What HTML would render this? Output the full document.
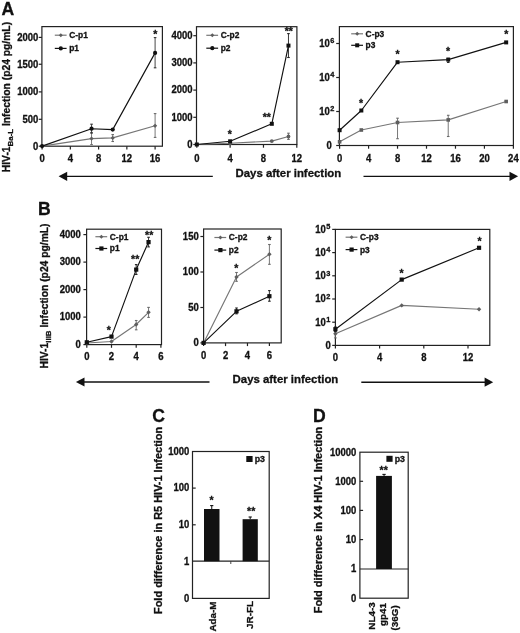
<!DOCTYPE html>
<html><head><meta charset="utf-8"><style>
html,body{margin:0;padding:0;background:#fff;}
svg{display:block;font-family:"Liberation Sans", sans-serif;filter:grayscale(1);}
text{stroke:#111;stroke-width:0.3px;}
</style></head><body>
<svg width="520" height="633" viewBox="0 0 520 633">
<rect width="520" height="633" fill="#fff"/>
<text x="1.6" y="14.7" font-size="17.6" font-weight="bold" fill="#111">A</text>
<rect x="41.90" y="26.60" width="120.50" height="119.60" fill="none" stroke="#222" stroke-width="1.2"/>
<line x1="38.70" y1="146.20" x2="41.90" y2="146.20" stroke="#222" stroke-width="1.2"/>
<text x="0" y="0" font-size="9.8" text-anchor="end" font-weight="bold" fill="#111" transform="translate(38.30,149.55) scale(0.97,1.04)" >0</text>
<line x1="38.70" y1="119.30" x2="41.90" y2="119.30" stroke="#222" stroke-width="1.2"/>
<text x="0" y="0" font-size="9.8" text-anchor="end" font-weight="bold" fill="#111" transform="translate(38.30,122.65) scale(0.97,1.04)" >500</text>
<line x1="38.70" y1="91.90" x2="41.90" y2="91.90" stroke="#222" stroke-width="1.2"/>
<text x="0" y="0" font-size="9.8" text-anchor="end" font-weight="bold" fill="#111" transform="translate(38.30,95.25) scale(0.97,1.04)" >1000</text>
<line x1="38.70" y1="64.25" x2="41.90" y2="64.25" stroke="#222" stroke-width="1.2"/>
<text x="0" y="0" font-size="9.8" text-anchor="end" font-weight="bold" fill="#111" transform="translate(38.30,67.60) scale(0.97,1.04)" >1500</text>
<line x1="38.70" y1="37.40" x2="41.90" y2="37.40" stroke="#222" stroke-width="1.2"/>
<text x="0" y="0" font-size="9.8" text-anchor="end" font-weight="bold" fill="#111" transform="translate(38.30,40.75) scale(0.97,1.04)" >2000</text>
<line x1="42.10" y1="146.20" x2="42.10" y2="149.40" stroke="#222" stroke-width="1.2"/>
<text x="0" y="0" font-size="9.8" text-anchor="middle" font-weight="bold" fill="#111" transform="translate(42.10,161.95) scale(0.97,1.04)" >0</text>
<line x1="70.35" y1="146.20" x2="70.35" y2="149.40" stroke="#222" stroke-width="1.2"/>
<text x="0" y="0" font-size="9.8" text-anchor="middle" font-weight="bold" fill="#111" transform="translate(70.35,161.95) scale(0.97,1.04)" >4</text>
<line x1="98.60" y1="146.20" x2="98.60" y2="149.40" stroke="#222" stroke-width="1.2"/>
<text x="0" y="0" font-size="9.8" text-anchor="middle" font-weight="bold" fill="#111" transform="translate(98.60,161.95) scale(0.97,1.04)" >8</text>
<line x1="126.85" y1="146.20" x2="126.85" y2="149.40" stroke="#222" stroke-width="1.2"/>
<text x="0" y="0" font-size="9.8" text-anchor="middle" font-weight="bold" fill="#111" transform="translate(126.85,161.95) scale(0.97,1.04)" >12</text>
<line x1="155.10" y1="146.20" x2="155.10" y2="149.40" stroke="#222" stroke-width="1.2"/>
<text x="0" y="0" font-size="9.8" text-anchor="middle" font-weight="bold" fill="#111" transform="translate(155.10,161.95) scale(0.97,1.04)" >16</text>
<polyline points="42.10,146.10 91.54,138.60 112.72,137.90 155.10,125.80" fill="none" stroke="#767676" stroke-width="1.15" stroke-linejoin="round"/>
<line x1="91.54" y1="132.50" x2="91.54" y2="144.60" stroke="#6a6a6a" stroke-width="0.9"/>
<line x1="90.24" y1="132.50" x2="92.84" y2="132.50" stroke="#6a6a6a" stroke-width="1.1"/>
<line x1="90.24" y1="144.60" x2="92.84" y2="144.60" stroke="#6a6a6a" stroke-width="1.1"/>
<line x1="112.72" y1="134.60" x2="112.72" y2="141.50" stroke="#6a6a6a" stroke-width="0.9"/>
<line x1="111.42" y1="134.60" x2="114.02" y2="134.60" stroke="#6a6a6a" stroke-width="1.1"/>
<line x1="111.42" y1="141.50" x2="114.02" y2="141.50" stroke="#6a6a6a" stroke-width="1.1"/>
<line x1="155.10" y1="113.60" x2="155.10" y2="137.40" stroke="#6a6a6a" stroke-width="0.9"/>
<line x1="153.80" y1="113.60" x2="156.40" y2="113.60" stroke="#6a6a6a" stroke-width="1.1"/>
<line x1="153.80" y1="137.40" x2="156.40" y2="137.40" stroke="#6a6a6a" stroke-width="1.1"/>
<path d="M42.10 144.00L44.20 146.10L42.10 148.20L40.00 146.10Z" fill="#5e5e5e"/>
<path d="M91.54 136.50L93.64 138.60L91.54 140.70L89.44 138.60Z" fill="#5e5e5e"/>
<path d="M112.72 135.80L114.82 137.90L112.72 140.00L110.62 137.90Z" fill="#5e5e5e"/>
<path d="M155.10 123.70L157.20 125.80L155.10 127.90L153.00 125.80Z" fill="#5e5e5e"/>
<polyline points="42.10,146.10 91.54,128.70 112.72,129.60 155.10,52.90" fill="none" stroke="#111" stroke-width="1.15" stroke-linejoin="round"/>
<line x1="91.54" y1="124.20" x2="91.54" y2="133.10" stroke="#333" stroke-width="0.9"/>
<line x1="90.24" y1="124.20" x2="92.84" y2="124.20" stroke="#333" stroke-width="1.1"/>
<line x1="90.24" y1="133.10" x2="92.84" y2="133.10" stroke="#333" stroke-width="1.1"/>
<line x1="155.10" y1="37.60" x2="155.10" y2="67.80" stroke="#333" stroke-width="0.9"/>
<line x1="153.80" y1="37.60" x2="156.40" y2="37.60" stroke="#333" stroke-width="1.1"/>
<line x1="153.80" y1="67.80" x2="156.40" y2="67.80" stroke="#333" stroke-width="1.1"/>
<circle cx="42.10" cy="146.10" r="2.1" fill="#111"/>
<circle cx="91.54" cy="128.70" r="2.1" fill="#111"/>
<circle cx="112.72" cy="129.60" r="2.1" fill="#111"/>
<circle cx="155.10" cy="52.90" r="2.1" fill="#111"/>
<text x="155.40" y="37.56" font-size="10.5" text-anchor="middle" font-weight="bold" fill="#111" >*</text>
<line x1="54.80" y1="35.20" x2="66.60" y2="35.20" stroke="#767676" stroke-width="1.2"/>
<path d="M60.80 33.20L62.80 35.20L60.80 37.20L58.80 35.20Z" fill="#5e5e5e"/>
<text x="69.20" y="38.10" font-size="8.4" text-anchor="start" font-weight="bold" fill="#111" >C-p1</text>
<line x1="54.80" y1="48.40" x2="66.60" y2="48.40" stroke="#111" stroke-width="1.2"/>
<circle cx="60.80" cy="48.40" r="2.1" fill="#111"/>
<text x="69.20" y="51.30" font-size="8.4" text-anchor="start" font-weight="bold" fill="#111" >p1</text>
<rect x="196.50" y="26.70" width="100.40" height="117.80" fill="none" stroke="#222" stroke-width="1.2"/>
<line x1="193.30" y1="144.50" x2="196.50" y2="144.50" stroke="#222" stroke-width="1.2"/>
<text x="0" y="0" font-size="9.8" text-anchor="end" font-weight="bold" fill="#111" transform="translate(192.60,147.85) scale(0.97,1.04)" >0</text>
<line x1="193.30" y1="117.30" x2="196.50" y2="117.30" stroke="#222" stroke-width="1.2"/>
<text x="0" y="0" font-size="9.8" text-anchor="end" font-weight="bold" fill="#111" transform="translate(192.60,120.65) scale(0.97,1.04)" >1000</text>
<line x1="193.30" y1="90.10" x2="196.50" y2="90.10" stroke="#222" stroke-width="1.2"/>
<text x="0" y="0" font-size="9.8" text-anchor="end" font-weight="bold" fill="#111" transform="translate(192.60,93.45) scale(0.97,1.04)" >2000</text>
<line x1="193.30" y1="62.90" x2="196.50" y2="62.90" stroke="#222" stroke-width="1.2"/>
<text x="0" y="0" font-size="9.8" text-anchor="end" font-weight="bold" fill="#111" transform="translate(192.60,66.25) scale(0.97,1.04)" >3000</text>
<line x1="193.30" y1="35.70" x2="196.50" y2="35.70" stroke="#222" stroke-width="1.2"/>
<text x="0" y="0" font-size="9.8" text-anchor="end" font-weight="bold" fill="#111" transform="translate(192.60,39.05) scale(0.97,1.04)" >4000</text>
<line x1="196.80" y1="144.50" x2="196.80" y2="147.70" stroke="#222" stroke-width="1.2"/>
<text x="0" y="0" font-size="9.8" text-anchor="middle" font-weight="bold" fill="#111" transform="translate(196.80,161.55) scale(0.97,1.04)" >0</text>
<line x1="230.13" y1="144.50" x2="230.13" y2="147.70" stroke="#222" stroke-width="1.2"/>
<text x="0" y="0" font-size="9.8" text-anchor="middle" font-weight="bold" fill="#111" transform="translate(230.13,161.55) scale(0.97,1.04)" >4</text>
<line x1="263.47" y1="144.50" x2="263.47" y2="147.70" stroke="#222" stroke-width="1.2"/>
<text x="0" y="0" font-size="9.8" text-anchor="middle" font-weight="bold" fill="#111" transform="translate(263.47,161.55) scale(0.97,1.04)" >8</text>
<line x1="296.80" y1="144.50" x2="296.80" y2="147.70" stroke="#222" stroke-width="1.2"/>
<text x="0" y="0" font-size="9.8" text-anchor="middle" font-weight="bold" fill="#111" transform="translate(296.80,161.55) scale(0.97,1.04)" >12</text>
<polyline points="196.80,144.50 230.13,143.20 271.80,141.10 288.47,136.50" fill="none" stroke="#767676" stroke-width="1.15" stroke-linejoin="round"/>
<line x1="288.47" y1="133.20" x2="288.47" y2="139.40" stroke="#6a6a6a" stroke-width="0.9"/>
<line x1="287.17" y1="133.20" x2="289.77" y2="133.20" stroke="#6a6a6a" stroke-width="1.1"/>
<line x1="287.17" y1="139.40" x2="289.77" y2="139.40" stroke="#6a6a6a" stroke-width="1.1"/>
<circle cx="196.80" cy="144.50" r="1.9" fill="#5e5e5e"/>
<circle cx="230.13" cy="143.20" r="1.9" fill="#5e5e5e"/>
<circle cx="271.80" cy="141.10" r="1.9" fill="#5e5e5e"/>
<circle cx="288.47" cy="136.50" r="1.9" fill="#5e5e5e"/>
<polyline points="196.80,144.50 230.13,141.30 271.80,123.80 288.47,45.60" fill="none" stroke="#111" stroke-width="1.15" stroke-linejoin="round"/>
<line x1="288.47" y1="33.60" x2="288.47" y2="57.50" stroke="#222" stroke-width="0.9"/>
<line x1="287.17" y1="33.60" x2="289.77" y2="33.60" stroke="#222" stroke-width="1.1"/>
<line x1="287.17" y1="57.50" x2="289.77" y2="57.50" stroke="#222" stroke-width="1.1"/>
<rect x="194.80" y="142.50" width="4.00" height="4.00" fill="#111"/>
<rect x="228.13" y="139.30" width="4.00" height="4.00" fill="#111"/>
<rect x="269.80" y="121.80" width="4.00" height="4.00" fill="#111"/>
<rect x="286.47" y="43.60" width="4.00" height="4.00" fill="#111"/>
<text x="229.90" y="137.85" font-size="10.5" text-anchor="middle" font-weight="bold" fill="#111" >*</text>
<text x="266.80" y="121.26" font-size="10.5" text-anchor="middle" font-weight="bold" fill="#111" >**</text>
<text x="288.80" y="35.36" font-size="10.5" text-anchor="middle" font-weight="bold" fill="#111" >**</text>
<line x1="206.30" y1="35.30" x2="218.10" y2="35.30" stroke="#767676" stroke-width="1.2"/>
<path d="M212.30 33.30L214.30 35.30L212.30 37.30L210.30 35.30Z" fill="#5e5e5e"/>
<text x="220.70" y="38.20" font-size="8.4" text-anchor="start" font-weight="bold" fill="#111" >C-p2</text>
<line x1="206.30" y1="48.20" x2="218.10" y2="48.20" stroke="#111" stroke-width="1.2"/>
<circle cx="212.30" cy="48.20" r="2.1" fill="#111"/>
<text x="220.70" y="51.10" font-size="8.4" text-anchor="start" font-weight="bold" fill="#111" >p2</text>
<rect x="339.40" y="26.60" width="174.00" height="118.90" fill="none" stroke="#222" stroke-width="1.2"/>
<line x1="336.20" y1="145.50" x2="339.40" y2="145.50" stroke="#222" stroke-width="1.2"/>
<text x="0" y="0" font-size="9.8" text-anchor="end" font-weight="bold" fill="#111" transform="translate(331.80,148.85) scale(0.97,1.04)" >0</text>
<line x1="336.20" y1="111.50" x2="339.40" y2="111.50" stroke="#222" stroke-width="1.2"/>
<text x="0" y="0" font-size="9.8" font-weight="bold" text-anchor="end" fill="#111" transform="translate(334.30,114.85) scale(0.97,1.04)">10<tspan font-size="7.6" dx="0.4" dy="-3.5">2</tspan></text>
<line x1="336.20" y1="77.50" x2="339.40" y2="77.50" stroke="#222" stroke-width="1.2"/>
<text x="0" y="0" font-size="9.8" font-weight="bold" text-anchor="end" fill="#111" transform="translate(334.30,80.85) scale(0.97,1.04)">10<tspan font-size="7.6" dx="0.4" dy="-3.5">4</tspan></text>
<line x1="336.20" y1="43.50" x2="339.40" y2="43.50" stroke="#222" stroke-width="1.2"/>
<text x="0" y="0" font-size="9.8" font-weight="bold" text-anchor="end" fill="#111" transform="translate(334.30,46.85) scale(0.97,1.04)">10<tspan font-size="7.6" dx="0.4" dy="-3.5">6</tspan></text>
<line x1="339.60" y1="145.50" x2="339.60" y2="148.70" stroke="#222" stroke-width="1.2"/>
<text x="0" y="0" font-size="9.8" text-anchor="middle" font-weight="bold" fill="#111" transform="translate(339.60,161.85) scale(0.97,1.04)" >0</text>
<line x1="368.57" y1="145.50" x2="368.57" y2="148.70" stroke="#222" stroke-width="1.2"/>
<text x="0" y="0" font-size="9.8" text-anchor="middle" font-weight="bold" fill="#111" transform="translate(368.57,161.85) scale(0.97,1.04)" >4</text>
<line x1="397.53" y1="145.50" x2="397.53" y2="148.70" stroke="#222" stroke-width="1.2"/>
<text x="0" y="0" font-size="9.8" text-anchor="middle" font-weight="bold" fill="#111" transform="translate(397.53,161.85) scale(0.97,1.04)" >8</text>
<line x1="426.50" y1="145.50" x2="426.50" y2="148.70" stroke="#222" stroke-width="1.2"/>
<text x="0" y="0" font-size="9.8" text-anchor="middle" font-weight="bold" fill="#111" transform="translate(426.50,161.85) scale(0.97,1.04)" >12</text>
<line x1="455.47" y1="145.50" x2="455.47" y2="148.70" stroke="#222" stroke-width="1.2"/>
<text x="0" y="0" font-size="9.8" text-anchor="middle" font-weight="bold" fill="#111" transform="translate(455.47,161.85) scale(0.97,1.04)" >16</text>
<line x1="484.43" y1="145.50" x2="484.43" y2="148.70" stroke="#222" stroke-width="1.2"/>
<text x="0" y="0" font-size="9.8" text-anchor="middle" font-weight="bold" fill="#111" transform="translate(484.43,161.85) scale(0.97,1.04)" >20</text>
<line x1="513.40" y1="145.50" x2="513.40" y2="148.70" stroke="#222" stroke-width="1.2"/>
<text x="0" y="0" font-size="9.8" text-anchor="middle" font-weight="bold" fill="#111" transform="translate(513.40,161.85) scale(0.97,1.04)" >24</text>
<polyline points="339.60,141.80 361.33,130.00 397.53,122.50 448.23,119.90 506.16,101.50" fill="none" stroke="#767676" stroke-width="1.15" stroke-linejoin="round"/>
<line x1="397.53" y1="118.20" x2="397.53" y2="138.70" stroke="#6a6a6a" stroke-width="0.9"/>
<line x1="396.23" y1="118.20" x2="398.83" y2="118.20" stroke="#6a6a6a" stroke-width="1.1"/>
<line x1="396.23" y1="138.70" x2="398.83" y2="138.70" stroke="#6a6a6a" stroke-width="1.1"/>
<line x1="448.23" y1="115.30" x2="448.23" y2="136.50" stroke="#6a6a6a" stroke-width="0.9"/>
<line x1="446.93" y1="115.30" x2="449.53" y2="115.30" stroke="#6a6a6a" stroke-width="1.1"/>
<line x1="446.93" y1="136.50" x2="449.53" y2="136.50" stroke="#6a6a6a" stroke-width="1.1"/>
<rect x="337.80" y="140.00" width="3.60" height="3.60" fill="#5e5e5e"/>
<rect x="359.53" y="128.20" width="3.60" height="3.60" fill="#5e5e5e"/>
<rect x="395.73" y="120.70" width="3.60" height="3.60" fill="#5e5e5e"/>
<rect x="446.43" y="118.10" width="3.60" height="3.60" fill="#5e5e5e"/>
<rect x="504.36" y="99.70" width="3.60" height="3.60" fill="#5e5e5e"/>
<polyline points="339.60,130.20 361.33,110.50 397.53,62.20 448.23,59.60 506.16,42.40" fill="none" stroke="#111" stroke-width="1.15" stroke-linejoin="round"/>
<line x1="448.23" y1="58.40" x2="448.23" y2="62.40" stroke="#222" stroke-width="0.9"/>
<line x1="446.93" y1="58.40" x2="449.53" y2="58.40" stroke="#222" stroke-width="1.1"/>
<line x1="446.93" y1="62.40" x2="449.53" y2="62.40" stroke="#222" stroke-width="1.1"/>
<rect x="337.60" y="128.20" width="4.00" height="4.00" fill="#111"/>
<rect x="359.33" y="108.50" width="4.00" height="4.00" fill="#111"/>
<rect x="395.53" y="60.20" width="4.00" height="4.00" fill="#111"/>
<rect x="446.23" y="57.60" width="4.00" height="4.00" fill="#111"/>
<rect x="504.16" y="40.40" width="4.00" height="4.00" fill="#111"/>
<text x="361.10" y="107.16" font-size="10.5" text-anchor="middle" font-weight="bold" fill="#111" >*</text>
<text x="397.50" y="57.86" font-size="10.5" text-anchor="middle" font-weight="bold" fill="#111" >*</text>
<text x="448.00" y="55.25" font-size="10.5" text-anchor="middle" font-weight="bold" fill="#111" >*</text>
<text x="506.40" y="38.25" font-size="10.5" text-anchor="middle" font-weight="bold" fill="#111" >*</text>
<line x1="351.20" y1="33.80" x2="363.00" y2="33.80" stroke="#767676" stroke-width="1.2"/>
<path d="M357.20 31.80L359.20 33.80L357.20 35.80L355.20 33.80Z" fill="#5e5e5e"/>
<text x="365.60" y="36.70" font-size="8.4" text-anchor="start" font-weight="bold" fill="#111" >C-p3</text>
<line x1="351.20" y1="45.30" x2="363.00" y2="45.30" stroke="#111" stroke-width="1.2"/>
<rect x="355.20" y="43.30" width="4.00" height="4.00" fill="#111"/>
<text x="365.60" y="48.20" font-size="8.4" text-anchor="start" font-weight="bold" fill="#111" >p3</text>
<text x="0" y="0" font-size="10.3" font-weight="bold" fill="#111" transform="translate(9.7,172.2) rotate(-90)">HIV-1<tspan font-size="7.9" dy="3.0">Ba-L</tspan><tspan dy="-3.0"> Infection (p24 pg/mL)</tspan></text>
<line x1="65.60" y1="176.35" x2="212.80" y2="176.35" stroke="#111" stroke-width="1.4"/>
<path d="M58.60 176.35L67.20 171.75L67.20 180.95Z" fill="#111"/>
<line x1="363.50" y1="176.35" x2="511.10" y2="176.35" stroke="#111" stroke-width="1.4"/>
<path d="M518.10 176.35L509.50 171.75L509.50 180.95Z" fill="#111"/>
<text x="235.50" y="177.10" font-size="11.4" text-anchor="start" font-weight="bold" fill="#111" >Days after infection</text>
<text x="37.9" y="214.5" font-size="17.6" font-weight="bold" fill="#111">B</text>
<rect x="86.60" y="229.20" width="74.90" height="115.40" fill="none" stroke="#222" stroke-width="1.2"/>
<line x1="83.40" y1="344.60" x2="86.60" y2="344.60" stroke="#222" stroke-width="1.2"/>
<text x="0" y="0" font-size="9.8" text-anchor="end" font-weight="bold" fill="#111" transform="translate(80.90,347.95) scale(0.97,1.04)" >0</text>
<line x1="83.40" y1="317.10" x2="86.60" y2="317.10" stroke="#222" stroke-width="1.2"/>
<text x="0" y="0" font-size="9.8" text-anchor="end" font-weight="bold" fill="#111" transform="translate(80.90,320.45) scale(0.97,1.04)" >1000</text>
<line x1="83.40" y1="289.60" x2="86.60" y2="289.60" stroke="#222" stroke-width="1.2"/>
<text x="0" y="0" font-size="9.8" text-anchor="end" font-weight="bold" fill="#111" transform="translate(80.90,292.95) scale(0.97,1.04)" >2000</text>
<line x1="83.40" y1="262.10" x2="86.60" y2="262.10" stroke="#222" stroke-width="1.2"/>
<text x="0" y="0" font-size="9.8" text-anchor="end" font-weight="bold" fill="#111" transform="translate(80.90,265.45) scale(0.97,1.04)" >3000</text>
<line x1="83.40" y1="234.60" x2="86.60" y2="234.60" stroke="#222" stroke-width="1.2"/>
<text x="0" y="0" font-size="9.8" text-anchor="end" font-weight="bold" fill="#111" transform="translate(80.90,237.95) scale(0.97,1.04)" >4000</text>
<line x1="86.80" y1="344.60" x2="86.80" y2="347.80" stroke="#222" stroke-width="1.2"/>
<text x="0" y="0" font-size="9.8" text-anchor="middle" font-weight="bold" fill="#111" transform="translate(86.80,360.05) scale(0.97,1.04)" >0</text>
<line x1="111.50" y1="344.60" x2="111.50" y2="347.80" stroke="#222" stroke-width="1.2"/>
<text x="0" y="0" font-size="9.8" text-anchor="middle" font-weight="bold" fill="#111" transform="translate(111.50,360.05) scale(0.97,1.04)" >2</text>
<line x1="136.20" y1="344.60" x2="136.20" y2="347.80" stroke="#222" stroke-width="1.2"/>
<text x="0" y="0" font-size="9.8" text-anchor="middle" font-weight="bold" fill="#111" transform="translate(136.20,360.05) scale(0.97,1.04)" >4</text>
<line x1="160.90" y1="344.60" x2="160.90" y2="347.80" stroke="#222" stroke-width="1.2"/>
<text x="0" y="0" font-size="9.8" text-anchor="middle" font-weight="bold" fill="#111" transform="translate(160.90,360.05) scale(0.97,1.04)" >6</text>
<polyline points="86.80,343.00 111.50,341.50 136.20,324.50 148.55,312.30" fill="none" stroke="#767676" stroke-width="1.15" stroke-linejoin="round"/>
<line x1="136.20" y1="320.50" x2="136.20" y2="329.80" stroke="#6a6a6a" stroke-width="0.9"/>
<line x1="134.90" y1="320.50" x2="137.50" y2="320.50" stroke="#6a6a6a" stroke-width="1.1"/>
<line x1="134.90" y1="329.80" x2="137.50" y2="329.80" stroke="#6a6a6a" stroke-width="1.1"/>
<line x1="148.55" y1="307.40" x2="148.55" y2="317.40" stroke="#6a6a6a" stroke-width="0.9"/>
<line x1="147.25" y1="307.40" x2="149.85" y2="307.40" stroke="#6a6a6a" stroke-width="1.1"/>
<line x1="147.25" y1="317.40" x2="149.85" y2="317.40" stroke="#6a6a6a" stroke-width="1.1"/>
<path d="M86.80 340.80L89.00 343.00L86.80 345.20L84.60 343.00Z" fill="#5e5e5e"/>
<path d="M111.50 339.30L113.70 341.50L111.50 343.70L109.30 341.50Z" fill="#5e5e5e"/>
<path d="M136.20 322.30L138.40 324.50L136.20 326.70L134.00 324.50Z" fill="#5e5e5e"/>
<path d="M148.55 310.10L150.75 312.30L148.55 314.50L146.35 312.30Z" fill="#5e5e5e"/>
<polyline points="86.80,342.30 111.50,336.60 136.20,269.60 148.55,242.10" fill="none" stroke="#111" stroke-width="1.15" stroke-linejoin="round"/>
<line x1="136.20" y1="264.60" x2="136.20" y2="274.40" stroke="#222" stroke-width="0.9"/>
<line x1="134.90" y1="264.60" x2="137.50" y2="264.60" stroke="#222" stroke-width="1.1"/>
<line x1="134.90" y1="274.40" x2="137.50" y2="274.40" stroke="#222" stroke-width="1.1"/>
<line x1="148.55" y1="237.30" x2="148.55" y2="246.90" stroke="#222" stroke-width="0.9"/>
<line x1="147.25" y1="237.30" x2="149.85" y2="237.30" stroke="#222" stroke-width="1.1"/>
<line x1="147.25" y1="246.90" x2="149.85" y2="246.90" stroke="#222" stroke-width="1.1"/>
<rect x="84.70" y="340.20" width="4.20" height="4.20" fill="#111"/>
<rect x="109.40" y="334.50" width="4.20" height="4.20" fill="#111"/>
<rect x="134.10" y="267.50" width="4.20" height="4.20" fill="#111"/>
<rect x="146.45" y="240.00" width="4.20" height="4.20" fill="#111"/>
<text x="108.80" y="334.16" font-size="10.5" text-anchor="middle" font-weight="bold" fill="#111" >*</text>
<text x="135.20" y="263.25" font-size="10.5" text-anchor="middle" font-weight="bold" fill="#111" >**</text>
<text x="149.20" y="238.85" font-size="10.5" text-anchor="middle" font-weight="bold" fill="#111" >**</text>
<line x1="95.40" y1="236.70" x2="107.20" y2="236.70" stroke="#767676" stroke-width="1.2"/>
<path d="M101.40 234.70L103.40 236.70L101.40 238.70L99.40 236.70Z" fill="#5e5e5e"/>
<text x="109.80" y="239.60" font-size="8.4" text-anchor="start" font-weight="bold" fill="#111" >C-p1</text>
<line x1="95.40" y1="248.50" x2="107.20" y2="248.50" stroke="#111" stroke-width="1.2"/>
<rect x="99.30" y="246.40" width="4.20" height="4.20" fill="#111"/>
<text x="109.80" y="251.40" font-size="8.4" text-anchor="start" font-weight="bold" fill="#111" >p1</text>
<rect x="203.60" y="229.00" width="77.60" height="113.90" fill="none" stroke="#222" stroke-width="1.2"/>
<line x1="200.40" y1="342.90" x2="203.60" y2="342.90" stroke="#222" stroke-width="1.2"/>
<text x="0" y="0" font-size="9.8" text-anchor="end" font-weight="bold" fill="#111" transform="translate(198.70,346.25) scale(0.97,1.04)" >0</text>
<line x1="200.40" y1="307.50" x2="203.60" y2="307.50" stroke="#222" stroke-width="1.2"/>
<text x="0" y="0" font-size="9.8" text-anchor="end" font-weight="bold" fill="#111" transform="translate(198.70,310.85) scale(0.97,1.04)" >50</text>
<line x1="200.40" y1="272.00" x2="203.60" y2="272.00" stroke="#222" stroke-width="1.2"/>
<text x="0" y="0" font-size="9.8" text-anchor="end" font-weight="bold" fill="#111" transform="translate(198.70,275.35) scale(0.97,1.04)" >100</text>
<line x1="200.40" y1="236.50" x2="203.60" y2="236.50" stroke="#222" stroke-width="1.2"/>
<text x="0" y="0" font-size="9.8" text-anchor="end" font-weight="bold" fill="#111" transform="translate(198.70,239.85) scale(0.97,1.04)" >150</text>
<line x1="203.60" y1="342.90" x2="203.60" y2="346.10" stroke="#222" stroke-width="1.2"/>
<text x="0" y="0" font-size="9.8" text-anchor="middle" font-weight="bold" fill="#111" transform="translate(203.60,358.55) scale(0.97,1.04)" >0</text>
<line x1="225.53" y1="342.90" x2="225.53" y2="346.10" stroke="#222" stroke-width="1.2"/>
<text x="0" y="0" font-size="9.8" text-anchor="middle" font-weight="bold" fill="#111" transform="translate(225.53,358.55) scale(0.97,1.04)" >2</text>
<line x1="247.47" y1="342.90" x2="247.47" y2="346.10" stroke="#222" stroke-width="1.2"/>
<text x="0" y="0" font-size="9.8" text-anchor="middle" font-weight="bold" fill="#111" transform="translate(247.47,358.55) scale(0.97,1.04)" >4</text>
<line x1="269.40" y1="342.90" x2="269.40" y2="346.10" stroke="#222" stroke-width="1.2"/>
<text x="0" y="0" font-size="9.8" text-anchor="middle" font-weight="bold" fill="#111" transform="translate(269.40,358.55) scale(0.97,1.04)" >6</text>
<polyline points="203.60,342.90 236.50,277.00 269.40,254.30" fill="none" stroke="#767676" stroke-width="1.15" stroke-linejoin="round"/>
<line x1="236.50" y1="272.50" x2="236.50" y2="281.30" stroke="#6a6a6a" stroke-width="0.9"/>
<line x1="235.20" y1="272.50" x2="237.80" y2="272.50" stroke="#6a6a6a" stroke-width="1.1"/>
<line x1="235.20" y1="281.30" x2="237.80" y2="281.30" stroke="#6a6a6a" stroke-width="1.1"/>
<line x1="269.40" y1="244.50" x2="269.40" y2="264.30" stroke="#6a6a6a" stroke-width="0.9"/>
<line x1="268.10" y1="244.50" x2="270.70" y2="244.50" stroke="#6a6a6a" stroke-width="1.1"/>
<line x1="268.10" y1="264.30" x2="270.70" y2="264.30" stroke="#6a6a6a" stroke-width="1.1"/>
<path d="M203.60 340.70L205.80 342.90L203.60 345.10L201.40 342.90Z" fill="#5e5e5e"/>
<path d="M236.50 274.80L238.70 277.00L236.50 279.20L234.30 277.00Z" fill="#5e5e5e"/>
<path d="M269.40 252.10L271.60 254.30L269.40 256.50L267.20 254.30Z" fill="#5e5e5e"/>
<polyline points="203.60,342.90 236.50,311.30 269.40,296.20" fill="none" stroke="#111" stroke-width="1.15" stroke-linejoin="round"/>
<line x1="236.50" y1="308.00" x2="236.50" y2="313.80" stroke="#222" stroke-width="0.9"/>
<line x1="235.20" y1="308.00" x2="237.80" y2="308.00" stroke="#222" stroke-width="1.1"/>
<line x1="235.20" y1="313.80" x2="237.80" y2="313.80" stroke="#222" stroke-width="1.1"/>
<line x1="269.40" y1="290.60" x2="269.40" y2="301.20" stroke="#222" stroke-width="0.9"/>
<line x1="268.10" y1="290.60" x2="270.70" y2="290.60" stroke="#222" stroke-width="1.1"/>
<line x1="268.10" y1="301.20" x2="270.70" y2="301.20" stroke="#222" stroke-width="1.1"/>
<rect x="201.50" y="340.80" width="4.20" height="4.20" fill="#111"/>
<rect x="234.40" y="309.20" width="4.20" height="4.20" fill="#111"/>
<rect x="267.30" y="294.10" width="4.20" height="4.20" fill="#111"/>
<text x="236.30" y="271.75" font-size="10.5" text-anchor="middle" font-weight="bold" fill="#111" >*</text>
<text x="269.30" y="243.66" font-size="10.5" text-anchor="middle" font-weight="bold" fill="#111" >*</text>
<line x1="214.40" y1="237.50" x2="226.20" y2="237.50" stroke="#767676" stroke-width="1.2"/>
<path d="M220.40 235.50L222.40 237.50L220.40 239.50L218.40 237.50Z" fill="#5e5e5e"/>
<text x="228.80" y="240.40" font-size="8.4" text-anchor="start" font-weight="bold" fill="#111" >C-p2</text>
<line x1="214.40" y1="250.10" x2="226.20" y2="250.10" stroke="#111" stroke-width="1.2"/>
<rect x="218.30" y="248.00" width="4.20" height="4.20" fill="#111"/>
<text x="228.80" y="253.00" font-size="8.4" text-anchor="start" font-weight="bold" fill="#111" >p2</text>
<rect x="335.40" y="229.40" width="154.40" height="116.00" fill="none" stroke="#222" stroke-width="1.2"/>
<line x1="332.20" y1="345.40" x2="335.40" y2="345.40" stroke="#222" stroke-width="1.2"/>
<text x="0" y="0" font-size="9.8" text-anchor="end" font-weight="bold" fill="#111" transform="translate(330.70,348.75) scale(0.97,1.04)" >0</text>
<line x1="332.20" y1="322.20" x2="335.40" y2="322.20" stroke="#222" stroke-width="1.2"/>
<text x="0" y="0" font-size="9.8" font-weight="bold" text-anchor="end" fill="#111" transform="translate(330.30,325.55) scale(0.97,1.04)">10<tspan font-size="7.6" dx="0.4" dy="-3.5">1</tspan></text>
<line x1="332.20" y1="299.00" x2="335.40" y2="299.00" stroke="#222" stroke-width="1.2"/>
<text x="0" y="0" font-size="9.8" font-weight="bold" text-anchor="end" fill="#111" transform="translate(330.30,302.35) scale(0.97,1.04)">10<tspan font-size="7.6" dx="0.4" dy="-3.5">2</tspan></text>
<line x1="332.20" y1="275.80" x2="335.40" y2="275.80" stroke="#222" stroke-width="1.2"/>
<text x="0" y="0" font-size="9.8" font-weight="bold" text-anchor="end" fill="#111" transform="translate(330.30,279.15) scale(0.97,1.04)">10<tspan font-size="7.6" dx="0.4" dy="-3.5">3</tspan></text>
<line x1="332.20" y1="252.60" x2="335.40" y2="252.60" stroke="#222" stroke-width="1.2"/>
<text x="0" y="0" font-size="9.8" font-weight="bold" text-anchor="end" fill="#111" transform="translate(330.30,255.95) scale(0.97,1.04)">10<tspan font-size="7.6" dx="0.4" dy="-3.5">4</tspan></text>
<line x1="332.20" y1="229.40" x2="335.40" y2="229.40" stroke="#222" stroke-width="1.2"/>
<text x="0" y="0" font-size="9.8" font-weight="bold" text-anchor="end" fill="#111" transform="translate(330.30,232.75) scale(0.97,1.04)">10<tspan font-size="7.6" dx="0.4" dy="-3.5">5</tspan></text>
<line x1="335.40" y1="345.40" x2="335.40" y2="348.60" stroke="#222" stroke-width="1.2"/>
<text x="0" y="0" font-size="9.8" text-anchor="middle" font-weight="bold" fill="#111" transform="translate(335.40,360.55) scale(0.97,1.04)" >0</text>
<line x1="379.60" y1="345.40" x2="379.60" y2="348.60" stroke="#222" stroke-width="1.2"/>
<text x="0" y="0" font-size="9.8" text-anchor="middle" font-weight="bold" fill="#111" transform="translate(379.60,360.55) scale(0.97,1.04)" >4</text>
<line x1="423.80" y1="345.40" x2="423.80" y2="348.60" stroke="#222" stroke-width="1.2"/>
<text x="0" y="0" font-size="9.8" text-anchor="middle" font-weight="bold" fill="#111" transform="translate(423.80,360.55) scale(0.97,1.04)" >8</text>
<line x1="468.00" y1="345.40" x2="468.00" y2="348.60" stroke="#222" stroke-width="1.2"/>
<text x="0" y="0" font-size="9.8" text-anchor="middle" font-weight="bold" fill="#111" transform="translate(468.00,360.55) scale(0.97,1.04)" >12</text>
<polyline points="335.40,333.80 401.70,305.40 479.05,309.30" fill="none" stroke="#767676" stroke-width="1.15" stroke-linejoin="round"/>
<line x1="335.40" y1="331.50" x2="335.40" y2="337.90" stroke="#6a6a6a" stroke-width="0.9"/>
<line x1="334.10" y1="331.50" x2="336.70" y2="331.50" stroke="#6a6a6a" stroke-width="1.1"/>
<line x1="334.10" y1="337.90" x2="336.70" y2="337.90" stroke="#6a6a6a" stroke-width="1.1"/>
<path d="M335.40 331.60L337.60 333.80L335.40 336.00L333.20 333.80Z" fill="#5e5e5e"/>
<path d="M401.70 303.20L403.90 305.40L401.70 307.60L399.50 305.40Z" fill="#5e5e5e"/>
<path d="M479.05 307.10L481.25 309.30L479.05 311.50L476.85 309.30Z" fill="#5e5e5e"/>
<polyline points="335.40,329.20 401.70,279.60 479.05,247.80" fill="none" stroke="#111" stroke-width="1.15" stroke-linejoin="round"/>
<line x1="335.40" y1="327.00" x2="335.40" y2="331.60" stroke="#222" stroke-width="0.9"/>
<line x1="334.10" y1="327.00" x2="336.70" y2="327.00" stroke="#222" stroke-width="1.1"/>
<line x1="334.10" y1="331.60" x2="336.70" y2="331.60" stroke="#222" stroke-width="1.1"/>
<rect x="333.30" y="327.10" width="4.20" height="4.20" fill="#111"/>
<rect x="399.60" y="277.50" width="4.20" height="4.20" fill="#111"/>
<rect x="476.95" y="245.70" width="4.20" height="4.20" fill="#111"/>
<text x="401.50" y="276.86" font-size="10.5" text-anchor="middle" font-weight="bold" fill="#111" >*</text>
<text x="479.50" y="244.66" font-size="10.5" text-anchor="middle" font-weight="bold" fill="#111" >*</text>
<line x1="345.60" y1="237.20" x2="357.40" y2="237.20" stroke="#767676" stroke-width="1.2"/>
<path d="M351.60 235.20L353.60 237.20L351.60 239.20L349.60 237.20Z" fill="#5e5e5e"/>
<text x="360.00" y="240.10" font-size="8.4" text-anchor="start" font-weight="bold" fill="#111" >C-p3</text>
<line x1="345.60" y1="249.60" x2="357.40" y2="249.60" stroke="#111" stroke-width="1.2"/>
<rect x="349.50" y="247.50" width="4.20" height="4.20" fill="#111"/>
<text x="360.00" y="252.50" font-size="8.4" text-anchor="start" font-weight="bold" fill="#111" >p3</text>
<text x="0" y="0" font-size="10.3" font-weight="bold" fill="#111" transform="translate(48.0,368.5) rotate(-90)">HIV-1<tspan font-size="7.9" dy="3.0">IIIB</tspan><tspan dy="-3.0"> Infection (p24 pg/mL)</tspan></text>
<line x1="82.90" y1="382.00" x2="209.50" y2="382.00" stroke="#111" stroke-width="1.4"/>
<path d="M75.90 382.00L84.50 377.40L84.50 386.60Z" fill="#111"/>
<line x1="361.30" y1="382.20" x2="486.20" y2="382.20" stroke="#111" stroke-width="1.4"/>
<path d="M493.20 382.20L484.60 377.60L484.60 386.80Z" fill="#111"/>
<text x="232.60" y="382.90" font-size="11.4" text-anchor="start" font-weight="bold" fill="#111" >Days after infection</text>
<text x="152.2" y="422.0" font-size="17.6" font-weight="bold" fill="#111">C</text>
<rect x="192.50" y="451.50" width="76.70" height="146.90" fill="none" stroke="#222" stroke-width="1.2"/>
<text x="0" y="0" font-size="9.8" text-anchor="end" font-weight="bold" fill="#111" transform="translate(189.30,454.85) scale(0.97,1.04)" >1000</text>
<line x1="192.50" y1="488.10" x2="195.70" y2="488.10" stroke="#222" stroke-width="1.2"/>
<text x="0" y="0" font-size="9.8" text-anchor="end" font-weight="bold" fill="#111" transform="translate(189.30,491.45) scale(0.97,1.04)" >100</text>
<line x1="192.50" y1="524.80" x2="195.70" y2="524.80" stroke="#222" stroke-width="1.2"/>
<text x="0" y="0" font-size="9.8" text-anchor="end" font-weight="bold" fill="#111" transform="translate(189.30,528.15) scale(0.97,1.04)" >10</text>
<text x="0" y="0" font-size="9.8" text-anchor="end" font-weight="bold" fill="#111" transform="translate(189.30,564.55) scale(0.97,1.04)" >1</text>
<text x="0" y="0" font-size="9.8" text-anchor="end" font-weight="bold" fill="#111" transform="translate(189.30,601.75) scale(0.97,1.04)" >0</text>
<line x1="192.50" y1="561.20" x2="269.20" y2="561.20" stroke="#222" stroke-width="1.2"/>
<rect x="204.0" y="509.0" width="15.50" height="52.20" fill="#111"/>
<line x1="211.75" y1="505.60" x2="211.75" y2="509.00" stroke="#111" stroke-width="1.0"/>
<line x1="210.15" y1="505.60" x2="213.35" y2="505.60" stroke="#111" stroke-width="1.1"/>
<rect x="242.6" y="519.2" width="15.20" height="42.00" fill="#111"/>
<line x1="250.20" y1="517.00" x2="250.20" y2="519.20" stroke="#111" stroke-width="1.0"/>
<line x1="248.60" y1="517.00" x2="251.80" y2="517.00" stroke="#111" stroke-width="1.1"/>
<line x1="230.80" y1="561.20" x2="230.80" y2="564.00" stroke="#333" stroke-width="0.9"/>
<text x="211.60" y="503.66" font-size="10.5" text-anchor="middle" font-weight="bold" fill="#111" >*</text>
<text x="251.20" y="514.75" font-size="10.5" text-anchor="middle" font-weight="bold" fill="#111" >**</text>
<rect x="246.3" y="456.0" width="6.3" height="6.0" fill="#111"/>
<text x="254.70" y="461.90" font-size="8.8" text-anchor="start" font-weight="bold" fill="#111" >p3</text>
<text x="0" y="0" font-size="9.9" font-weight="bold" text-anchor="end" fill="#111" transform="translate(215.90,601.40) rotate(-90)">Ada-M</text>
<text x="0" y="0" font-size="9.9" font-weight="bold" text-anchor="end" fill="#111" transform="translate(252.90,600.90) rotate(-90)">JR-FL</text>
<text x="0" y="0" font-size="10.95" font-weight="bold" fill="#111" text-anchor="middle" transform="translate(161.8,520.4) rotate(-90)">Fold difference in R5 HIV-1 Infection</text>
<text x="313.0" y="422.0" font-size="17.6" font-weight="bold" fill="#111">D</text>
<rect x="359.90" y="452.20" width="48.30" height="146.00" fill="none" stroke="#222" stroke-width="1.2"/>
<text x="0" y="0" font-size="9.8" text-anchor="end" font-weight="bold" fill="#111" transform="translate(356.30,455.55) scale(0.97,1.04)" >10000</text>
<line x1="359.90" y1="481.30" x2="363.10" y2="481.30" stroke="#222" stroke-width="1.2"/>
<text x="0" y="0" font-size="9.8" text-anchor="end" font-weight="bold" fill="#111" transform="translate(356.30,484.65) scale(0.97,1.04)" >1000</text>
<line x1="359.90" y1="510.40" x2="363.10" y2="510.40" stroke="#222" stroke-width="1.2"/>
<text x="0" y="0" font-size="9.8" text-anchor="end" font-weight="bold" fill="#111" transform="translate(356.30,513.75) scale(0.97,1.04)" >100</text>
<line x1="359.90" y1="539.60" x2="363.10" y2="539.60" stroke="#222" stroke-width="1.2"/>
<text x="0" y="0" font-size="9.8" text-anchor="end" font-weight="bold" fill="#111" transform="translate(356.30,542.95) scale(0.97,1.04)" >10</text>
<text x="0" y="0" font-size="9.8" text-anchor="end" font-weight="bold" fill="#111" transform="translate(356.30,572.35) scale(0.97,1.04)" >1</text>
<text x="0" y="0" font-size="9.8" text-anchor="end" font-weight="bold" fill="#111" transform="translate(356.30,601.55) scale(0.97,1.04)" >0</text>
<line x1="359.90" y1="569.00" x2="408.20" y2="569.00" stroke="#222" stroke-width="1.2"/>
<rect x="376.1" y="475.9" width="15.8" height="93.10" fill="#111"/>
<line x1="384.05" y1="474.40" x2="384.05" y2="476.50" stroke="#111" stroke-width="1.0"/>
<line x1="382.40" y1="474.40" x2="385.70" y2="474.40" stroke="#111" stroke-width="1.1"/>
<text x="383.70" y="474.16" font-size="10.5" text-anchor="middle" font-weight="bold" fill="#111" >**</text>
<rect x="386.4" y="455.8" width="6.2" height="6.0" fill="#111"/>
<text x="394.70" y="461.90" font-size="8.8" text-anchor="start" font-weight="bold" fill="#111" >p3</text>
<text x="0" y="0" font-size="9.9" font-weight="bold" text-anchor="middle" fill="#111" transform="translate(374.80,616.00) rotate(-90)">NL4-3</text>
<text x="0" y="0" font-size="9.9" font-weight="bold" text-anchor="middle" fill="#111" transform="translate(386.40,614.50) rotate(-90)">gp41</text>
<text x="0" y="0" font-size="9.9" font-weight="bold" text-anchor="middle" fill="#111" transform="translate(397.60,617.80) rotate(-90)">(36G)</text>
<text x="0" y="0" font-size="10.95" font-weight="bold" fill="#111" text-anchor="middle" transform="translate(322.3,520.0) rotate(-90)">Fold difference in X4 HIV-1 Infection</text>
</svg>
</body></html>
